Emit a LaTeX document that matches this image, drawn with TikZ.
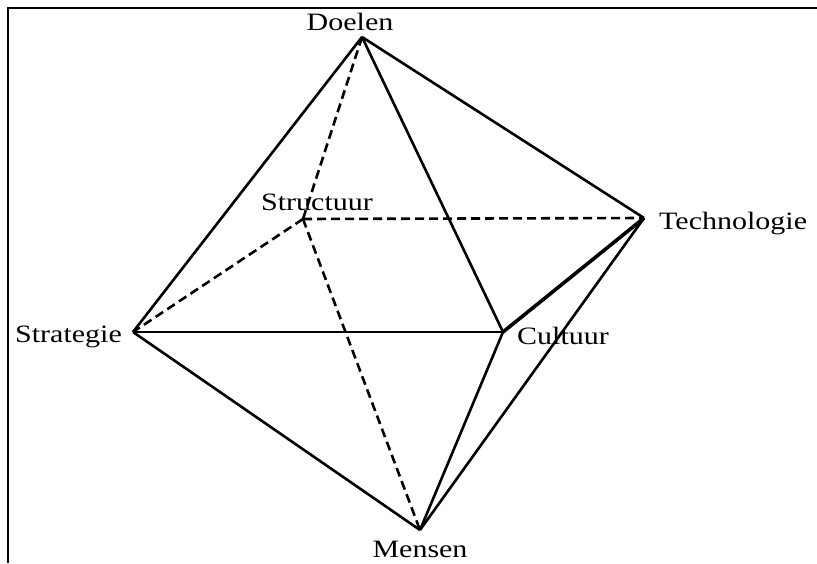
\documentclass[tikz,border=0pt]{standalone}
\usepackage{fontspec}
\setmainfont{Liberation Serif}
\begin{document}
\begin{tikzpicture}[x=1pt,y=-1pt,
  edge/.style={line width=2.6pt,line join=round},
  hidden/.style={line width=2.6pt,dash pattern=on 9pt off 5pt},
  lbl/.style={inner sep=0pt,font=\fontsize{25}{25}\selectfont}]
\useasboundingbox (0,0) rectangle (817,563);
\draw[line width=2pt] (8,563) -- (8,8) -- (817,8);
\coordinate (D) at (362,37);
\coordinate (S) at (303,219);
\coordinate (T) at (644,218);
\coordinate (G) at (133,332);
\coordinate (C) at (503,332);
\coordinate (M) at (420,530);
\node[lbl,anchor=base] (lD) at (350,30) {\scalebox{1.2}[1]{Doelen}};
\node[lbl,anchor=base] (lS) at (317,210) {\scalebox{1.2}[1]{Structuur}};
\node[lbl,anchor=base west] (lT) at (659,229) {\scalebox{1.2}[1]{Technologie}};
\node[lbl,anchor=base east] (lG) at (122,342) {\scalebox{1.2}[1]{Strategie}};
\node[lbl,anchor=base west] (lC) at (517,344) {\scalebox{1.2}[1]{Cultuur}};
\node[lbl,anchor=base] (lM) at (420,557) {\scalebox{1.2}[1]{Mensen}};
\draw[hidden] (D) -- (S);
\draw[hidden] (S) -- (T);
\draw[hidden] (S) -- (G);
\draw[hidden] (S) -- (M);
\draw[edge] (D) -- (G);
\draw[edge] (D) -- (T);
\draw[edge] (D) -- (C);
\draw[edge] (G) -- (C);
\draw[edge,line width=3.6pt] (C) -- (T);
\draw[edge] (G) -- (M);
\draw[edge] (C) -- (M);
\draw[edge] (T) -- (M);
\end{tikzpicture}
\end{document}
